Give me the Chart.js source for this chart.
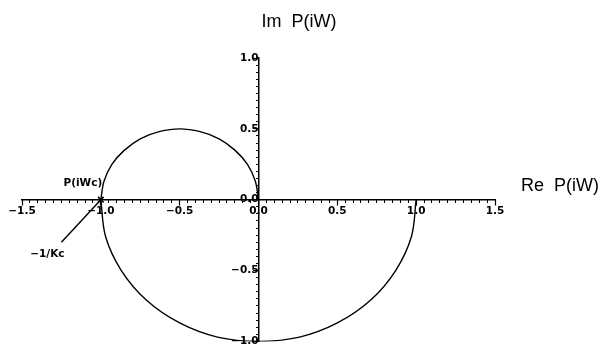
<!DOCTYPE html>
<html>
<head>
<meta charset="utf-8">
<script src="https://cdn.jsdelivr.net/npm/chart.js@4/dist/chart.umd.min.js"></script>
<style>
  html, body { margin: 0; padding: 0; background: #fff; }
  #wrap { width: 600px; height: 347px; position: relative; }
</style>
</head>
<body>
<div id="wrap"><canvas id="nyquist" width="600" height="347"></canvas></div>
<script>
// Nyquist locus: upper arc (centre -0.5, radius 0.5) from the origin to -1
const upperRe = [0.00, -0.02, -0.07, -0.15, -0.25, -0.37, -0.50, -0.63, -0.75, -0.85, -0.93, -0.98, -1.00];
const upperIm = [0.00,  0.13,  0.25,  0.35,  0.43,  0.48,  0.50,  0.48,  0.43,  0.35,  0.25,  0.13,  0.00];

// lower arc (unit radius) from -1 round through -i to +1
const lowerRe = [-1.00, -0.97, -0.87, -0.71, -0.50, -0.26, 0.00, 0.26, 0.50, 0.71, 0.87, 0.97, 1.00];
const lowerIm = [ 0.00, -0.26, -0.50, -0.71, -0.87, -0.97, -1.00, -0.97, -0.87, -0.71, -0.50, -0.26, 0.00];

// critical point and the pointer to its label
const criticalRe = [-1.00];
const criticalIm = [0.00];
const pointerRe = [-1.00, -1.25];
const pointerIm = [0.00, -0.30];

// axis tick values
const reMajorTicks = [-1.5, -1.0, -0.5, 0.0, 0.5, 1.0, 1.5];
const imMajorTicks = [-1.0, -0.5, 0.0, 0.5, 1.0];
const reMinorStep = 0.05;
const imMinorStep = 0.05;

const reLabel = 'Re  P(iW)';
const imLabel = 'Im  P(iW)';
const pointLabel = 'P(iWc)';
const gainLabel = '\u22121/Kc';

const toPoints = (xs, ys) => xs.map((x, i) => ({ x: x, y: ys[i] }));
const fmt = v => v.toFixed(1).replace('-', '\u2212');

const tickFont = { family: '"DejaVu Sans", sans-serif', size: 10.5, weight: 'bold' };

const textPlugin = {
  id: 'nyquistText',
  afterDraw(chart) {
    const ctx = chart.ctx;
    const sx = chart.scales.x, sy = chart.scales.y;
    ctx.save();
    ctx.fillStyle = '#000';
    ctx.textBaseline = 'middle';

    ctx.font = '18px "Liberation Sans", Arial, sans-serif';
    ctx.textAlign = 'center';
    ctx.fillText(imLabel, 299, 22);

    ctx.textAlign = 'left';
    ctx.fillText(reLabel, chart.chartArea.right + 26, sy.getPixelForValue(0) - 14);

    ctx.font = 'bold 10.5px "DejaVu Sans", sans-serif';
    ctx.textAlign = 'center';
    const px = sx.getPixelForValue(criticalRe[0]);
    const py = sy.getPixelForValue(criticalIm[0]);
    ctx.fillText(pointLabel, px - 18, py - 16);
    const ex = sx.getPixelForValue(pointerRe[1]);
    const ey = sy.getPixelForValue(pointerIm[1]);
    ctx.fillText(gainLabel, ex - 14, ey + 12);
    ctx.restore();
  }
};

const lineStyle = { borderColor: '#000', borderWidth: 1.4, pointRadius: 0, showLine: true, fill: false };
const noPad = s => { s.paddingTop = 0; s.paddingBottom = 0; s.paddingLeft = 0; s.paddingRight = 0; };

new Chart(document.getElementById('nyquist'), {
  type: 'scatter',
  data: {
    datasets: [
      Object.assign({ data: toPoints(upperRe, upperIm), tension: 0.34 }, lineStyle),
      Object.assign({ data: toPoints(lowerRe, lowerIm), tension: 0.34 }, lineStyle),
      Object.assign({ data: toPoints(pointerRe, pointerIm), tension: 0 }, lineStyle),
      {
        data: toPoints(criticalRe, criticalIm),
        pointStyle: 'crossRot', pointRadius: 4, borderColor: '#000', borderWidth: 1.6,
        showLine: false
      }
    ]
  },
  options: {
    responsive: false,
    animation: false,
    devicePixelRatio: 1,
    layout: { padding: { left: 22, right: 105, top: 58, bottom: 5 } },
    plugins: { legend: { display: false }, tooltip: { enabled: false }, title: { display: false } },
    scales: {
      x: {
        type: 'linear', min: -1.5, max: 1.5,
        position: { y: 0 },
        afterBuildTicks: s => { s.ticks = reMajorTicks.map(v => ({ value: v })); },
        afterFit: noPad,
        grid: { drawOnChartArea: false, drawTicks: true, tickLength: 5, tickColor: '#000', tickWidth: 1.2 },
        border: { display: true, color: '#000', width: 1.5 },
        ticks: { color: '#000', font: tickFont, padding: 0, autoSkip: false, maxRotation: 0, callback: v => fmt(v) }
      },
      xMinor: {
        type: 'linear', axis: 'x', min: -1.5, max: 1.5,
        position: { y: 0 },
        afterFit: noPad,
        grid: { drawOnChartArea: false, drawTicks: true, tickLength: 3, tickColor: '#000', tickWidth: 1 },
        border: { display: false },
        ticks: { display: false, stepSize: reMinorStep, autoSkip: false }
      },
      y: {
        type: 'linear', min: -1, max: 1,
        position: { x: 0 },
        afterBuildTicks: s => { s.ticks = imMajorTicks.map(v => ({ value: v })); },
        afterFit: noPad,
        grid: { drawOnChartArea: false, drawTicks: true, tickLength: 5, tickColor: '#000', tickWidth: 1.2 },
        border: { display: true, color: '#000', width: 1.5 },
        ticks: { color: '#000', font: tickFont, padding: 4, autoSkip: false, callback: v => fmt(v) }
      },
      yMinor: {
        type: 'linear', axis: 'y', min: -1, max: 1,
        position: { x: 0 },
        afterFit: noPad,
        grid: { drawOnChartArea: false, drawTicks: true, tickLength: 3, tickColor: '#000', tickWidth: 1 },
        border: { display: false },
        ticks: { display: false, stepSize: imMinorStep, autoSkip: false }
      }
    }
  },
  plugins: [textPlugin]
});
</script>
</body>
</html>
